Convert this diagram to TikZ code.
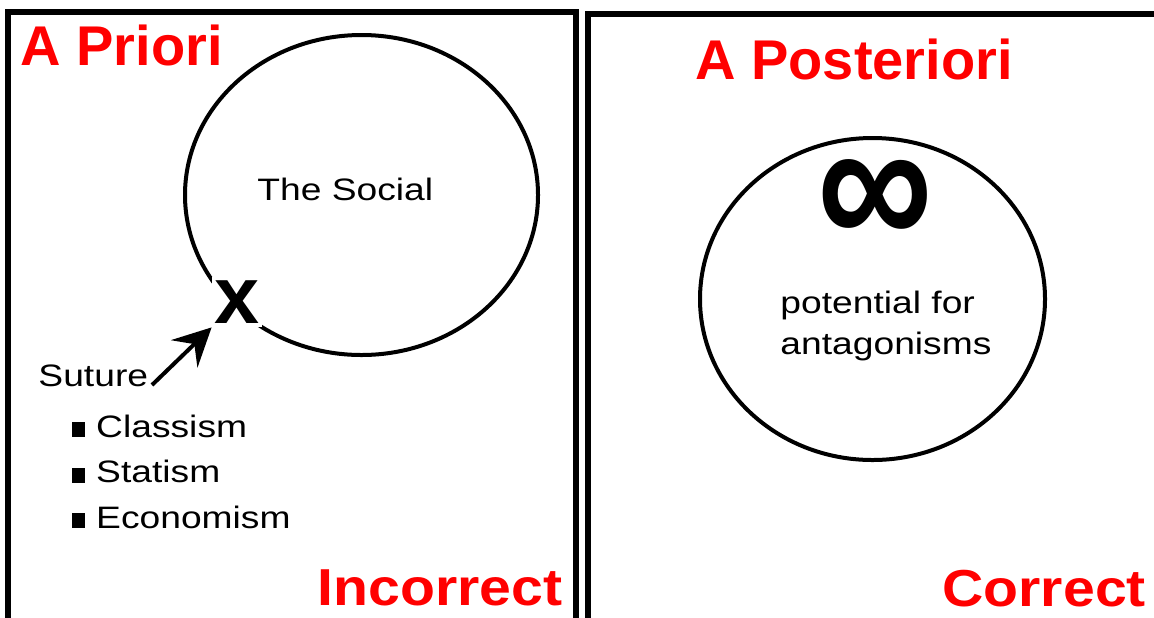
\documentclass[tikz,border=0pt]{standalone}
\usepackage{fontspec}
\setmainfont{Liberation Sans}
\usetikzlibrary{arrows.meta,positioning,shapes.geometric}
\definecolor{headred}{RGB}{255,0,0}

\begin{document}
\begin{tikzpicture}[
    x=0.5pt, y=-0.5pt,
    heading/.style={anchor=base west, inner sep=0pt, text=headred, font=\fontsize{28}{30}\selectfont\bfseries},
    verdict/.style={heading, xscale=1.1, transform shape, font=\fontsize{26}{28}\selectfont\bfseries},
    blacktext/.style={anchor=base west, inner sep=0pt, xscale=1.2, transform shape, font=\fontsize{15.5}{20}\selectfont},
    ring/.style={ellipse, draw=black, line width=2pt, inner sep=0pt},
    panel/.style={draw=black, line width=3pt},
    arrow/.style={-{Stealth[length=19pt, width=19pt, inset=7pt]}, line width=2pt}
]
\useasboundingbox (0,0) rectangle (1154,617);
\clip (0,0) rectangle (1154,617);

% the two panels
\draw[panel] (8,12) rectangle (576,660);
\draw[panel] (588,14) rectangle (1170,660);

% a priori
\node[heading] (priori) at (20,65) {A Priori};
\node[ring, minimum width=176.5pt, minimum height=160pt] (social) at (361.5,195) {};
\node[blacktext] (socialtext) at (257,200) {The Social};
\node[fill=white, inner sep=0pt, minimum size=25pt, font=\fontsize{40.5}{40}\selectfont\bfseries] (cross) at (237,302) {x};
\node[blacktext] (suture) at (38,386) {Suture};
\coordinate (tail) at (152,385);
\draw[arrow] (tail) -- (cross.south west);
\foreach \word [count=\i] in {Classism,Statism,Economism}
  \node[blacktext] (ism\i) at (72,{437+45.5*(\i-1)}) {\rule{5.4pt}{7.5pt}\hspace{4.5pt}\word};
\node[verdict] (wrong) at (317,605) {Incorrect};

% a posteriori
\node[heading] (posteriori) at (695,79) {A Posteriori};
\node[ring, minimum width=172.5pt, minimum height=161pt] (antag) at (872.5,299) {};
\node[inner sep=0pt, yscale=1.18, transform shape, font=\fontsize{81}{81}\selectfont\bfseries] (infty) at (875.5,204) {∞};
\node[blacktext] (potential) at (780,313) {potential for};
\node[blacktext] (antagonisms) at (780,354) {antagonisms};
\node[verdict] (right) at (942,606) {Correct};
\end{tikzpicture}
\end{document}
